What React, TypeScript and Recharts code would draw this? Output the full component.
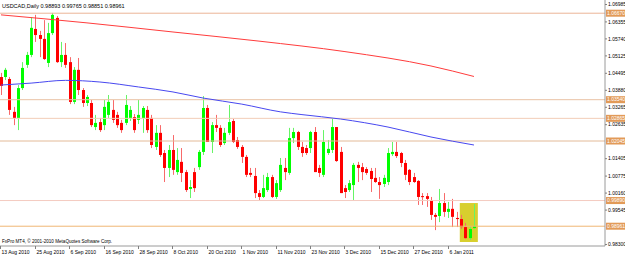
import React from "react";
import {
  ComposedChart,
  Bar,
  Line,
  XAxis,
  YAxis,
  ReferenceLine,
  ReferenceArea,
} from "recharts";

// USDCAD daily candles, 13 Aug 2010 .. mid Jan 2011
const opens = [
  1.0436, 1.0436, 1.0429, 1.031, 1.0288, 1.0396, 1.048, 1.0516, 1.061, 1.0588,
  1.0574, 1.0487, 1.0595, 1.065, 1.049, 1.0516, 1.049, 1.0346, 1.0462, 1.0389,
  1.0342, 1.0342, 1.0255, 1.0273, 1.0262, 1.0299, 1.0317, 1.0299, 1.027, 1.027,
  1.0288, 1.0291, 1.0281, 1.0288, 1.0317, 1.0288, 1.0183, 1.0234, 1.0161, 1.0107,
  1.0172, 1.0092, 1.0129, 1.0092, 1.0031, 1.0092, 1.011, 1.0165, 1.0324, 1.0201,
  1.0262, 1.0252, 1.0197, 1.0234, 1.0277, 1.0208, 1.0183, 1.0147, 1.0089, 1.0078,
  1.0016, 1.0002, 1.0027, 1.0074, 1.0002, 1.0027, 1.0107, 1.0089, 1.0215, 1.0237,
  1.0183, 1.0179, 1.0179, 1.0237, 1.0107, 1.0082, 1.0161, 1.0172, 1.0255, 1.0165,
  1.0034, 1.0027, 1.0045, 1.0118, 1.011, 1.0103, 1.0096, 1.0071, 1.0056, 1.0049,
  1.0056, 1.0157, 1.0165, 1.0161, 1.0125, 1.01, 1.0074, 1.006, 1.0005, 1.0005,
  0.9991, 0.9937, 0.9933, 0.998, 0.9948, 0.9959, 0.9926, 0.9922, 0.9893, 0.9853,
  0.98893,
];
const highs = [
  1.0451, 1.0469, 1.0436, 1.0328, 1.0407, 1.049, 1.0527, 1.0653, 1.0661, 1.0603,
  1.0642, 1.0632, 1.0668, 1.0657, 1.0563, 1.0559, 1.0508, 1.0472, 1.0505, 1.0396,
  1.0371, 1.0353, 1.0299, 1.0288, 1.0353, 1.0371, 1.0353, 1.031, 1.0281, 1.0371,
  1.0331, 1.0302, 1.0353, 1.0331, 1.0331, 1.0299, 1.0262, 1.0262, 1.0172, 1.019,
  1.0226, 1.0179, 1.0179, 1.01, 1.0063, 1.0107, 1.0172, 1.0367, 1.0335, 1.0273,
  1.0299, 1.0262, 1.0252, 1.0335, 1.0284, 1.0219, 1.019, 1.0154, 1.0107, 1.0107,
  1.0027, 1.0082, 1.0089, 1.0082, 1.0063, 1.0143, 1.0143, 1.0252, 1.0252, 1.0241,
  1.0201, 1.019, 1.0241, 1.0255, 1.0118, 1.0244, 1.0208, 1.0284, 1.0255, 1.0183,
  1.0045, 1.0063, 1.0125, 1.0129, 1.0125, 1.011, 1.0107, 1.0107, 1.0074, 1.0082,
  1.0179, 1.0201, 1.0201, 1.0165, 1.0136, 1.0103, 1.0089, 1.0063, 1.0016, 1.0016,
  1.0002, 0.9944, 1.0031, 1.0016, 0.9984, 0.9995, 0.9948, 0.9937, 0.9908, 0.9897,
  0.99765,
];
const lows = [
  1.0371, 1.0425, 1.0299, 1.0262, 1.0244, 1.0389, 1.0469, 1.0508, 1.0563, 1.0508,
  1.0498, 1.0472, 1.0588, 1.0487, 1.0472, 1.0469, 1.0338, 1.0338, 1.0371, 1.0328,
  1.0331, 1.0255, 1.0244, 1.0237, 1.0244, 1.0288, 1.027, 1.0252, 1.0234, 1.0262,
  1.0277, 1.0234, 1.0266, 1.0234, 1.0234, 1.0179, 1.0172, 1.0147, 1.0056, 1.0074,
  1.0082, 1.0082, 1.0056, 1.002, 0.9998, 1.002, 1.01, 1.0154, 1.0201, 1.0161,
  1.0237, 1.0183, 1.019, 1.0226, 1.0197, 1.0176, 1.0125, 1.0074, 1.0074, 0.9998,
  0.9991, 0.9998, 1.002, 0.9998, 0.9995, 1.002, 1.0063, 1.0082, 1.0197, 1.0172,
  1.0147, 1.0154, 1.0161, 1.0092, 1.0074, 1.0074, 1.0154, 1.0161, 1.0129, 1.0016,
  0.9998, 1.002, 0.9991, 1.0056, 1.0063, 1.0082, 1.002, 1.0053, 0.9995, 1.0038,
  1.0045, 1.015, 1.0143, 1.011, 1.0063, 1.0045, 1.0053, 0.9973, 0.9973, 0.9966,
  0.9919, 0.9882, 0.9911, 0.993, 0.9926, 0.9893, 0.9893, 0.9886, 0.985, 0.9846,
  0.98851,
];
const closes = [
  1.0404, 1.0462, 1.0317, 1.0288, 1.0396, 1.0469, 1.0516, 1.0614, 1.0588, 1.0574,
  1.0501, 1.0595, 1.0661, 1.049, 1.0516, 1.048, 1.0346, 1.0462, 1.0389, 1.0342,
  1.0364, 1.0262, 1.027, 1.0244, 1.0328, 1.0346, 1.0281, 1.0262, 1.0244, 1.0335,
  1.0317, 1.0244, 1.0299, 1.0324, 1.0244, 1.019, 1.0234, 1.0154, 1.0107, 1.0172,
  1.01, 1.0136, 1.0089, 1.0027, 1.0038, 1.0034, 1.0165, 1.0324, 1.0201, 1.0262,
  1.0252, 1.019, 1.0234, 1.0273, 1.0201, 1.0183, 1.0147, 1.0082, 1.0082, 1.0016,
  1.0002, 1.0034, 1.0074, 1.0002, 1.0052, 1.0118, 1.0092, 1.0215, 1.0237, 1.0183,
  1.0161, 1.0161, 1.0237, 1.0092, 1.0089, 1.0201, 1.0176, 1.0255, 1.0132, 1.0016,
  1.002, 1.0052, 1.0118, 1.0107, 1.0092, 1.0089, 1.0067, 1.0056, 1.0045, 1.0071,
  1.0161, 1.0165, 1.015, 1.0125, 1.0082, 1.0056, 1.0056, 1.0002, 1.0002, 0.9995,
  0.9937, 0.993, 0.998, 0.9948, 0.9959, 0.993, 0.9922, 0.9893, 0.9853, 0.9886,
  0.98961,
];

// moving averages, read at a few bars
const redMaBars = [0, 20, 40, 60, 80, 100, 110];
const redMaVals = [1.0661, 1.0632, 1.0599, 1.0566, 1.0528, 1.0476, 1.0438];
const blueMaBars = [0, 7, 15, 23, 32, 40, 47, 56, 65, 70, 79, 90, 100, 110];
const blueMaVals = [
  1.0407, 1.0414, 1.0424, 1.0418, 1.04, 1.0382, 1.036, 1.0338, 1.031, 1.03,
  1.0284, 1.0255, 1.0219, 1.019,
];

// horizontal lines drawn on the chart
const levelVals = [1.0667, 1.0354, 1.02865, 1.02045, 0.9989, 0.98961];
const levelColors = ["#EBB596", "#E9C2A4", "#F2CDB8", "#E3BA98", "#F4CBC0", "#F0B673"];

const dateTickBars = [0, 8, 16, 24, 32, 40, 48, 56, 64, 72, 80, 88, 96, 104];
const dateLabels = [
  "13 Aug 2010", "25 Aug 2010", "6 Sep 2010", "16 Sep 2010", "28 Sep 2010",
  "8 Oct 2010", "20 Oct 2010", "1 Nov 2010", "11 Nov 2010", "23 Nov 2010",
  "3 Dec 2010", "15 Dec 2010", "27 Dec 2010", "6 Jan 2011",
];
const priceTicks = [
  1.06985, 1.06355, 1.0574, 1.05125, 1.04495, 1.0388, 1.03265, 1.02635,
  1.01405, 1.00775, 1.0016, 0.99545, 0.983,
];

const candles = opens.map((o, i) => ({
  i,
  o,
  h: highs[i],
  l: lows[i],
  c: closes[i],
  range: [lows[i], highs[i]],
}));
const redMa = redMaBars.map((i, k) => ({ i, v: redMaVals[k] }));
const blueMa = blueMaBars.map((i, k) => ({ i, v: blueMaVals[k] }));

const FONT = "'Liberation Sans', Arial, sans-serif";

function Candle(props: any) {
  const { x, y, width, height, payload } = props;
  if (!payload) return null;
  const { o, h, l, c } = payload;
  const up = c >= o;
  const body = up ? "#00FF00" : "#FF0000";
  const wick = up ? "#66F466" : "#F86A6A";
  const cx = Math.floor(x + width / 2) + 0.5;
  const k = h === l ? 0 : height / (h - l);
  const top = y + (h - Math.max(o, c)) * k;
  const bot = y + (h - Math.min(o, c)) * k;
  return (
    <g>
      <line x1={cx} x2={cx} y1={y} y2={y + height} stroke={wick} strokeWidth={1} />
      <rect x={cx - 1.5} y={top} width={3} height={Math.max(1, bot - top)} fill={body} />
    </g>
  );
}

function DateTick(props: any) {
  const { x, y, payload } = props;
  const idx = dateTickBars.indexOf(payload.value);
  const px = Math.floor(x) + 0.5;
  return (
    <g>
      <line x1={px} x2={px} y1={y} y2={y + 3} stroke="#808080" />
      <text x={px + 1} y={y + 8} fontSize={5} fontFamily={FONT} fill="#000" textAnchor="start">
        {dateLabels[idx]}
      </text>
    </g>
  );
}

function LevelTag(props: any) {
  const { viewBox, value, color } = props;
  if (!viewBox) return null;
  const right = viewBox.x + viewBox.width;
  return (
    <g>
      <rect x={right + 1} y={viewBox.y - 3.5} width={24} height={7} fill={color} />
      <text x={right + 2} y={viewBox.y} dy="0.35em" fontSize={5} fontFamily={FONT} fill="#fff">
        {value}
      </text>
    </g>
  );
}

export default function App() {
  return (
    <div
      style={{
        position: "absolute",
        left: 0,
        top: 0,
        width: 625,
        height: 256,
        background: "#fff",
        overflow: "hidden",
      }}
    >
      <ComposedChart
        width={625}
        height={256}
        data={candles}
        margin={{ top: 0, right: 0, bottom: 0, left: 0 }}
      >
        <XAxis
          type="number"
          dataKey="i"
          domain={[-0.23, 140.47]}
          allowDataOverflow
          ticks={dateTickBars}
          interval={0}
          height={10}
          tickSize={0}
          tickMargin={0}
          axisLine={{ stroke: "#9A9A9A" }}
          tickLine={false}
          tick={<DateTick />}
        />
        <YAxis
          type="number"
          orientation="right"
          domain={[0.98245, 1.07148]}
          allowDataOverflow
          ticks={priceTicks}
          interval={0}
          width={20}
          tickSize={2}
          tickMargin={1}
          axisLine={{ stroke: "#9A9A9A" }}
          tickLine={{ stroke: "#808080" }}
          tick={{ fontSize: 5, fontFamily: FONT, fill: "#000", textAnchor: "start" }}
          tickFormatter={(v: number) => v.toFixed(5)}
        />
        <ReferenceArea
          x1={106.7}
          x2={110.9}
          y1={0.9839}
          y2={0.998}
          fill="#D8CF2E"
          fillOpacity={1}
          stroke="none"
        />
        {levelVals.map((v, k) => (
          <ReferenceLine
            key={k}
            y={v}
            stroke={levelColors[k]}
            strokeWidth={1}
            label={<LevelTag value={v.toFixed(5)} color="#E29A58" />}
          />
        ))}
        <Line
          data={redMa}
          dataKey="v"
          type="monotone"
          stroke="#FF3C3C"
          strokeWidth={1}
          dot={false}
          activeDot={false}
          legendType="none"
          isAnimationActive={false}
        />
        <Line
          data={blueMa}
          dataKey="v"
          type="monotone"
          stroke="#4848F0"
          strokeWidth={1}
          dot={false}
          activeDot={false}
          legendType="none"
          isAnimationActive={false}
        />
        <Bar
          dataKey="range"
          barSize={3}
          isAnimationActive={false}
          shape={(p: any) => <Candle {...p} />}
        />
      </ComposedChart>
      <svg
        width={625}
        height={256}
        style={{ position: "absolute", left: 0, top: 0, pointerEvents: "none" }}
      >
        <text x={2} y={7.5} fontSize={5.5} fontFamily={FONT} fill="#000">
          USDCAD,Daily  0.98893 0.99765 0.98851 0.98961
        </text>
        <text x={2} y={243} fontSize={4.6} fontFamily={FONT} fill="#000">
          FxPro MT4, © 2001-2010 MetaQuotes Software Corp.
        </text>
      </svg>
    </div>
  );
}
